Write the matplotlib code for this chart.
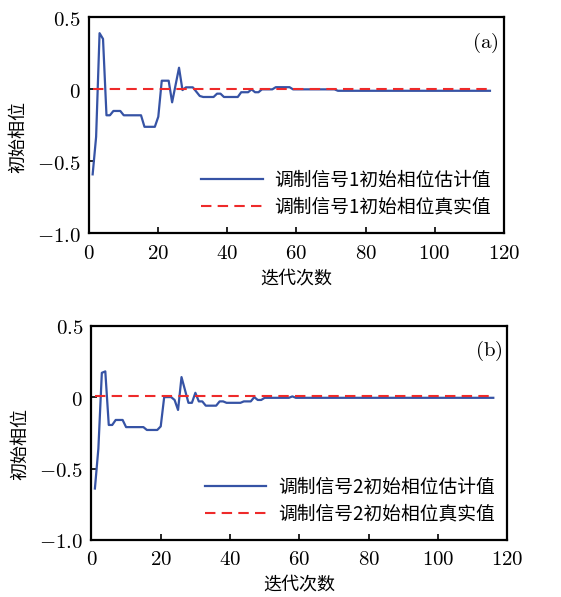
import matplotlib
matplotlib.use("Agg")
import matplotlib.pyplot as plt

plt.rcParams['font.family'] = ['Noto Sans CJK SC', 'DejaVu Sans']
plt.rcParams['mathtext.fontset'] = 'cm'

# panel (a): estimated initial phase of signal 1 (breakpoints)
iter_a = [1, 2, 3, 4, 5, 6, 7, 9, 10, 15, 16, 19, 20, 21, 23, 24, 26, 27, 28, 30,
          32, 33, 36, 37, 38, 39, 43, 44, 46, 47, 48, 49, 50, 53, 54, 58, 59, 71, 72, 116]
phase_a = [-0.59, -0.33, 0.39, 0.35, -0.18, -0.18, -0.15, -0.15, -0.18, -0.18,
           -0.26, -0.26, -0.19, 0.06, 0.06, -0.09, 0.15, -0.005, 0.014, 0.014,
           -0.046, -0.053, -0.053, -0.03, -0.03, -0.053, -0.053, -0.02, -0.02, 0.0,
           -0.02, -0.02, 0.0, 0.0, 0.015, 0.015, 0.0, 0.0, -0.01, -0.01]
true_a = 0.0

# panel (b): estimated initial phase of signal 2
iter_b = [1, 2, 3, 4, 5, 6, 7, 9, 10, 15, 16, 19, 20, 21, 23, 24, 25, 26, 28, 29,
          30, 31, 32, 33, 36, 37, 38, 39, 43, 44, 46, 47, 48, 49, 50, 57, 58, 59, 116]
phase_b = [-0.64, -0.36, 0.17, 0.18, -0.195, -0.195, -0.16, -0.16, -0.21, -0.21,
           -0.23, -0.23, -0.205, 0.0, 0.0, -0.02, -0.09, 0.14, -0.04, -0.04,
           0.03, -0.03, -0.03, -0.06, -0.06, -0.03, -0.03, -0.04, -0.04, -0.03,
           -0.03, 0.0, -0.02, -0.02, -0.005, -0.005, 0.005, -0.005, -0.005]
true_b = 0.005

x_range = [1, 116]
xticks = [0, 20, 40, 60, 80, 100, 120]
yticks = [-1.0, -0.5, 0, 0.5]
ytick_labels = ['$-1.0$', '$-0.5$', '$0$', '$0.5$']

fig = plt.figure(figsize=(5.61, 5.97), dpi=100)
ax1 = fig.add_axes([0.159, 0.609, 0.739, 0.362])
ax2 = fig.add_axes([0.163, 0.0955, 0.741, 0.359])

panels = [
    (ax1, iter_a, phase_a, true_a, '1', '(a)', 0.446),
    (ax2, iter_b, phase_b, true_b, '2', '(b)', 0.45),
]

for ax, xs, ys, tv, n, tag, ylab_y in panels:
    ax.plot(xs, ys, color='#3653a5', lw=1.6, label='调制信号' + n + '初始相位估计值')
    ax.plot(x_range, [tv, tv], color='#ee2a2a', lw=1.5, ls=(0, (5, 3)),
            label='调制信号' + n + '初始相位真实值')
    ax.set_xlim(0, 120)
    ax.set_ylim(-1.0, 0.5)
    ax.set_xticks(xticks)
    ax.set_xticklabels(['$%d$' % t for t in xticks])
    ax.set_yticks(yticks)
    ax.set_yticklabels(ytick_labels)
    ax.tick_params(direction='in', length=4, width=1.2, labelsize=15, pad=6)
    for s in ax.spines.values():
        s.set_linewidth(1.6)
    ax.set_xlabel('迭代次数', fontsize=13, labelpad=4)
    ax.set_ylabel('初始相位', fontsize=13)
    ax.yaxis.set_label_coords(-0.15, ylab_y)
    ax.text(0.955, 0.88, r'$\mathrm{' + tag + '}$', transform=ax.transAxes,
            fontsize=15, ha='center', va='center')
    ax.legend(loc='lower right', bbox_to_anchor=(1.01, -0.005), frameon=False,
              fontsize=13.5, handlelength=3.3, handletextpad=0.6, labelspacing=0.3)

fig.savefig('out.png', dpi=100)
